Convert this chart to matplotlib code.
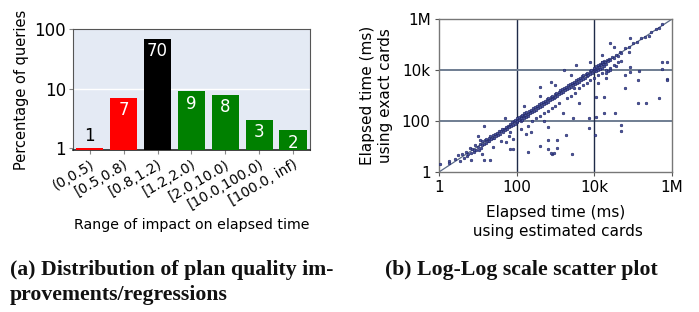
import numpy as np
import matplotlib.pyplot as plt

# === bar chart data ===
ranges = ['(0,0.5)', '[0.5,0.8)', '[0.8,1.2)', '[1.2,2.0)',
          '[2.0,10.0)', '[10.0,100.0)', '[100.0, inf)']
pct = [1, 7, 70, 9, 8, 3, 2]
bar_colors = ['#ff0000', '#ff0000', '#000000', '#008000', '#008000', '#008000', '#008000']

# === scatter data (log10 of ms) ===
# points close to the diagonal
diag_x = [0.25, 0.4, 0.5, 0.55, 0.6, 0.65, 0.7, 0.72, 0.75, 0.8, 0.82, 0.85, 0.9, 0.92, 0.95,
          1.0, 1.02, 1.05, 1.08, 1.1, 1.12, 1.15, 1.18, 1.2, 1.22, 1.25, 1.28, 1.3, 1.32, 1.35,
          1.38, 1.4, 1.42, 1.45, 1.48, 1.5, 1.52, 1.55, 1.58, 1.6, 1.62, 1.65, 1.68, 1.7, 1.72,
          1.75, 1.78, 1.8, 1.82, 1.85, 1.88, 1.9, 1.92, 1.95, 1.97, 2.0, 2.0, 2.02, 2.05, 2.07,
          2.1, 2.1, 2.12, 2.15, 2.15, 2.18, 2.2, 2.2, 2.22, 2.25, 2.25, 2.28, 2.3, 2.32, 2.35,
          2.38, 2.4, 2.42, 2.45, 2.48, 2.5, 2.52, 2.55, 2.58, 2.6, 2.62, 2.65, 2.68, 2.7, 2.72,
          2.75, 2.78, 2.8, 2.82, 2.85, 2.88, 2.9, 2.92, 2.95, 2.98, 3.0, 3.02, 3.05, 3.08, 3.1,
          3.12, 3.15, 3.18, 3.2, 3.22, 3.25, 3.28, 3.3, 3.32, 3.35, 3.38, 3.4, 3.42, 3.45, 3.48,
          3.5, 3.52, 3.55, 3.58, 3.6, 3.62, 3.65, 3.68, 3.7, 3.72, 3.75, 3.78, 3.8, 3.82, 3.85,
          3.88, 3.9, 3.92, 3.95, 3.98, 4.0, 4.0, 4.02, 4.05, 4.05, 4.08, 4.1, 4.1, 4.12, 4.15,
          4.15, 4.18, 4.2, 4.2, 4.22, 4.25, 4.25, 4.28, 4.3, 4.32, 4.35, 4.38, 4.4, 4.45, 4.5,
          4.55, 4.6, 4.65, 4.7, 4.8, 4.9, 5.0, 5.1, 5.2, 5.3, 5.45, 5.6, 5.75]
diag_y = [0.45, 0.5, 0.65, 0.45, 0.7, 0.55, 0.8, 0.62, 0.7, 0.95, 0.75, 0.9, 0.8, 1.05, 0.88,
          1.0, 0.85, 1.1, 0.95, 1.2, 1.05, 1.08, 1.25, 1.12, 1.3, 1.2, 1.35, 1.22, 1.4, 1.3,
          1.32, 1.45, 1.35, 1.5, 1.4, 1.55, 1.45, 1.6, 1.5, 1.62, 1.7, 1.58, 1.7, 1.65, 1.78,
          1.7, 1.8, 1.75, 1.9, 1.82, 1.95, 1.85, 2.0, 1.9, 2.05, 1.95, 2.1, 2.0, 2.15, 2.05,
          2.2, 2.0, 2.12, 2.25, 2.05, 2.18, 2.1, 2.3, 2.22, 2.15, 2.35, 2.28, 2.2, 2.4, 2.3,
          2.45, 2.35, 2.5, 2.4, 2.55, 2.45, 2.6, 2.5, 2.65, 2.55, 2.7, 2.6, 2.75, 2.65, 2.8,
          2.7, 2.85, 2.75, 2.9, 2.82, 2.95, 2.85, 3.0, 2.9, 3.05, 2.95, 3.1, 3.0, 3.15, 3.05,
          3.2, 3.1, 3.25, 3.15, 3.3, 3.2, 3.35, 3.25, 3.4, 3.3, 3.45, 3.35, 3.5, 3.4, 3.55,
          3.45, 3.6, 3.5, 3.65, 3.55, 3.7, 3.6, 3.75, 3.65, 3.8, 3.7, 3.85, 3.75, 3.9, 3.8,
          3.95, 3.85, 4.0, 3.9, 4.05, 3.95, 4.1, 4.0, 4.15, 3.95, 4.05, 4.2, 4.0, 4.12, 4.25,
          4.05, 4.18, 4.1, 4.3, 4.22, 4.15, 4.35, 4.3, 4.25, 4.4, 4.35, 4.45, 4.4, 4.5, 4.48,
          4.6, 4.55, 4.7, 4.68, 4.85, 4.9, 5.05, 5.1, 5.25, 5.3, 5.5, 5.62, 5.8]

# points a little off the diagonal
near_x = [1.1, 1.4, 1.6, 1.8, 1.9, 2.1, 2.3, 2.4, 2.5, 2.6, 2.7, 2.8, 2.9, 3.0, 3.1, 3.3, 3.4,
          3.5, 3.6, 3.7, 3.8, 3.9, 4.0, 4.1, 4.2, 4.3, 4.4, 4.3, 4.5, 4.6, 4.1, 3.6, 2.7, 3.2,
          2.2, 2.6, 3.0, 3.4, 3.9, 4.2, 4.5, 1.7, 1.0, 4.35, 4.4, 4.3]
near_y = [0.7, 1.0, 1.2, 1.4, 1.3, 1.7, 1.8, 2.0, 2.1, 2.2, 2.3, 2.4, 2.5, 2.6, 2.7, 2.9, 3.0,
          3.1, 3.3, 3.4, 3.5, 3.6, 3.7, 3.8, 3.9, 4.0, 4.1, 3.7, 4.2, 4.3, 3.5, 2.7, 2.0, 2.3,
          2.6, 3.0, 3.4, 3.8, 4.3, 4.6, 4.9, 2.1, 1.4, 3.95, 4.0, 3.9]

# outliers
out_x = [5.74, 5.87, 5.74, 5.87, 5.87, 5.15, 5.12, 5.67, 5.32, 5.12, 4.78, 4.78, 4.91, 4.91,
         4.70, 4.57, 4.53, 4.70, 4.70, 4.25, 4.05, 4.02, 3.86, 3.87, 4.25, 4.05, 3.45, 3.42,
         3.28, 3.04, 3.04, 2.92, 2.96, 2.89, 2.81, 2.81, 2.82, 2.59, 2.29, 2.38, 2.25, 1.91,
         1.84, 1.82, 1.73, 1.17, 1.16, 0.82, 1.05, 0.91, 1.32, 0.27, 0.02, 2.88, 2.59, 3.21,
         3.54, 4.41, 4.91, 5.42, 5.67, 4.89, 4.21, 3.49]
out_y = [4.32, 4.32, 4.06, 3.64, 3.60, 3.96, 3.63, 2.91, 2.71, 2.69, 3.30, 3.80, 4.13, 3.93,
         4.35, 4.15, 2.32, 1.83, 1.60, 2.32, 2.14, 1.47, 1.73, 2.10, 2.95, 2.95, 2.12, 0.72,
         1.44, 1.27, 0.94, 0.72, 0.75, 0.76, 1.25, 0.92, 1.77, 1.02, 0.79, 1.57, 1.51, 0.89,
         0.89, 1.57, 1.18, 1.82, 0.48, 0.48, 1.25, 0.85, 0.48, 0.37, 0.33, 3.54, 3.32, 4.02,
         4.19, 5.05, 5.27, 5.35, 5.64, 4.72, 4.32, 3.30]

log_x = np.array(diag_x + near_x + out_x)
log_y = np.array(diag_y + near_y + out_y)

fig = plt.figure(figsize=(6.99, 3.12), dpi=100)
plt.rcParams['font.family'] = 'DejaVu Sans'

# === (a) bar chart ===
base = 0.92
ax1 = fig.add_axes([0.1044, 0.518, 0.339, 0.388])
ax1.set_facecolor('#e4eaf4')
pos = np.arange(len(ranges))
ax1.bar(pos, [v - base for v in pct], width=0.8, color=bar_colors, bottom=base, zorder=3)
ax1.set_yscale('log')
ax1.set_ylim(base, 100)
ax1.set_xlim(-0.5, len(ranges) - 0.5)
ax1.set_yticks([1, 10, 100])
ax1.set_yticklabels(['1', '10', '100'], fontsize=12)
ax1.yaxis.set_minor_locator(plt.NullLocator())
ax1.axhline(10, color='white', lw=1, zorder=1)
ax1.set_xticks(pos)
ax1.set_xticklabels(ranges, rotation=30, ha='right', rotation_mode='anchor', fontsize=10)
ax1.tick_params(axis='both', length=3, color='#888888', pad=2)
for s in ax1.spines.values():
    s.set_color('#555555')
    s.set_linewidth(0.8)
ax1.spines['bottom'].set_color('#222222')
ax1.spines['bottom'].set_linewidth(1.2)
for p, v in zip(pos, pct):
    if v < 2:
        ax1.text(p, v * 1.12, str(v), ha='center', va='bottom', fontsize=12, color='black')
    else:
        ax1.text(p, v * 0.88, str(v), ha='center', va='top', fontsize=12, color='white')
ax1.set_ylabel('Percentage of queries', fontsize=10.5, labelpad=4)
ax1.set_xlabel('Range of impact on elapsed time', fontsize=10.2, labelpad=4)

# === (b) log-log scatter ===
ax2 = fig.add_axes([0.628, 0.4487, 0.3333, 0.490])
ax2.set_xscale('log')
ax2.set_yscale('log')
ax2.set_xlim(1, 1e6)
ax2.set_ylim(1, 1e6)
ticks = [1, 100, 1e4, 1e6]
ticklabels = ['1', '100', '10k', '1M']
ax2.set_xticks(ticks)
ax2.set_xticklabels(ticklabels, fontsize=11)
ax2.set_yticks(ticks)
ax2.set_yticklabels(ticklabels, fontsize=11)
ax2.xaxis.set_minor_locator(plt.NullLocator())
ax2.yaxis.set_minor_locator(plt.NullLocator())
ax2.tick_params(axis='both', length=3, color='#555555', pad=3)
for v in [100, 1e4]:
    ax2.axvline(v, color='#1e2a48', lw=1.0, zorder=1)
    ax2.axhline(v, color='#6f7d92', lw=1.4, zorder=1)
ax2.plot([1, 1e6], [1, 1e6], color='#5a6a88', lw=0.9, zorder=2)
ax2.plot(10 ** log_x, 10 ** log_y, 'o', ms=1.9, mfc='#4a55a0', mec='#1c2160', mew=0.4,
         ls='none', zorder=3)
for s in ax2.spines.values():
    s.set_color('#777777')
    s.set_linewidth(1.0)
ax2.set_xlabel('Elapsed time (ms)\n using estimated cards', fontsize=11, labelpad=7,
               linespacing=1.3)
ax2.set_ylabel('Elapsed time (ms)\nusing exact cards', fontsize=11, labelpad=6,
               linespacing=1.3)

# === captions ===
cap = dict(family='Liberation Serif', fontweight='bold', fontsize=15.7, color='#111111')
fig.text(10 / 699, 1 - 275 / 312, '(a) Distribution of plan quality im-', va='baseline', **cap)
fig.text(10 / 699, 1 - 300 / 312, 'provements/regressions', va='baseline', **cap)
fig.text(385 / 699, 1 - 275 / 312, '(b) Log-Log scale scatter plot', va='baseline', **cap)

fig.savefig('out.png', dpi=100)
